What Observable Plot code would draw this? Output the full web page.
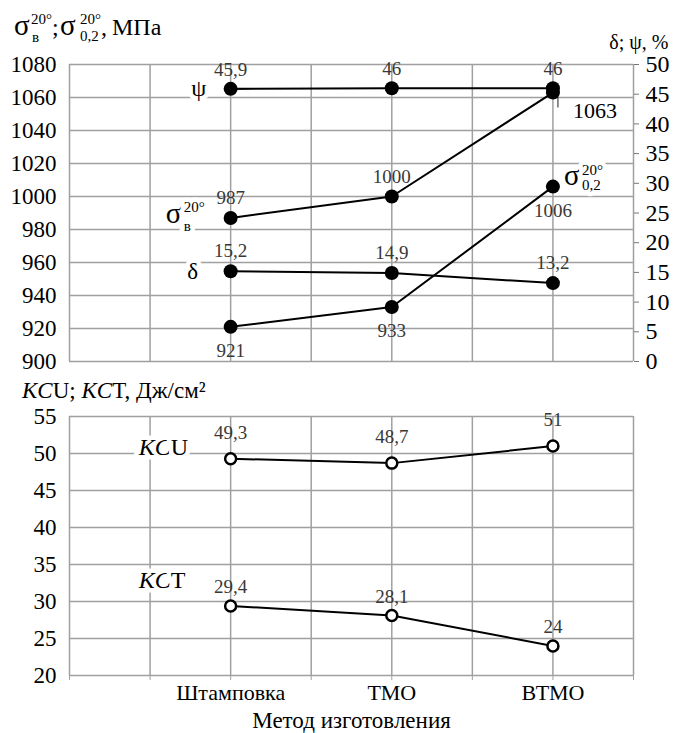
<!DOCTYPE html>
<html><head><meta charset="utf-8">
<script src="https://cdn.jsdelivr.net/npm/d3@7"></script>
<script src="https://cdn.jsdelivr.net/npm/@observablehq/plot@0.6"></script>
<style>
body{margin:0;background:#fff;}
#wrap{width:675px;}
#wrap svg{display:block;}
</style></head><body><div id="wrap"></div>
<script>
// ---- data ----
const categories = ["Штамповка", "ТМО", "ВТМО"];
const catPos = [2, 4, 6];
const sigmaB = [987, 1000, 1063];      // МПа
const sigma02 = [921, 933, 1006];      // МПа
const delta = [15.2, 14.9, 13.2];      // %
const psi = [45.9, 46, 46];            // %
const kcu = [49.3, 48.7, 51];          // Дж/см2
const kct = [29.4, 28.1, 24];          // Дж/см2
const mpaTicks = [900, 920, 940, 960, 980, 1000, 1020, 1040, 1060, 1080];
const pctTicks = [0, 5, 10, 15, 20, 25, 30, 35, 40, 45, 50];
const kTicks = [20, 25, 30, 35, 40, 45, 50, 55];
const xGrid = [0, 1, 2, 3, 4, 5, 6, 7];

const FONT = "Liberation Serif";
const GRID = "#a0a0a0";
const LAB = "#383838";
const toMpa = p => 900 + p * 180 / 50;
const fromMpa = v => String(Math.round((v - 900) * 50 / 180));
const fmt = v => String(v).replace(".", ",");
const rows = (vals, conv = v => v) => vals.map((v, i) => ({x: catPos[i], y: conv(v), v, i}));

const rPsi = rows(psi, toMpa), rDelta = rows(delta, toMpa);
const rSB = rows(sigmaB), rS02 = rows(sigma02);
const rKcu = rows(kcu), rKct = rows(kct);

const txt = (data, o) => Plot.text(data, {x: "x", y: "y", fontFamily: FONT, ...o});
const halo = {stroke: "white", strokeWidth: 9, fill: "#000", lineAnchor: "bottom"};

// ---- top panel ----
const topPlot = Plot.plot({
  width: 675, height: 370,
  marginTop: 64, marginBottom: 9, marginLeft: 69, marginRight: 42,
  style: {fontFamily: FONT, background: "#fff", color: "#000", overflow: "visible"},
  x: {domain: [0, 7], axis: null},
  y: {domain: [900, 1080], axis: null},
  marks: [
    Plot.gridX(xGrid, {stroke: GRID, strokeOpacity: 1, strokeWidth: 1.5}),
    Plot.gridY(mpaTicks, {stroke: GRID, strokeOpacity: 1, strokeWidth: 1.5}),
    Plot.axisY(mpaTicks, {anchor: "left", label: null, tickSize: 0, tickPadding: 13, fontSize: 23, fontFamily: FONT, tickFormat: d => String(d)}),
    Plot.axisY(pctTicks.map(toMpa), {anchor: "right", label: null, tickSize: 5, tickPadding: 7, fontSize: 24, fontFamily: FONT, stroke: "#777", tickFormat: fromMpa}),
    // lines
    Plot.line(rPsi, {x: "x", y: "y", stroke: "#000", strokeWidth: 2.2}),
    Plot.line(rSB, {x: "x", y: "y", stroke: "#000", strokeWidth: 2}),
    Plot.line(rS02, {x: "x", y: "y", stroke: "#000", strokeWidth: 2}),
    Plot.line(rDelta, {x: "x", y: "y", stroke: "#000", strokeWidth: 2}),
    // 1063 leader
    Plot.link(rSB.filter(d => d.i === 2), {x1: "x", x2: "x", y1: d => d.y - 2.5, y2: d => d.y - 9, dx: 5, stroke: "#444", strokeWidth: 1.2}),
    // series name labels
    txt([rPsi[0]], {text: () => "ψ", dx: -32, dy: 7, fontSize: 24, ...halo}),
    txt([rDelta[0]], {text: () => "δ", dx: -38, dy: 8, fontSize: 23, ...halo}),
    txt([rSB[0]], {text: () => "σ", dx: -65, dy: 5, fontSize: 29, textAnchor: "start", ...halo}),
    txt([rSB[0]], {text: () => "в", dx: -47, dy: 13, fontSize: 15, textAnchor: "start", ...halo}),
    txt([rSB[0]], {text: () => "20°", dx: -47, dy: -6, fontSize: 15, textAnchor: "start", ...halo}),
    txt([rS02[2]], {text: () => "σ", dx: 11, dy: -2, fontSize: 29, textAnchor: "start", ...halo}),
    txt([rS02[2]], {text: () => "20°", dx: 29, dy: -12, fontSize: 15, textAnchor: "start", ...halo}),
    txt([rS02[2]], {text: () => "0,2", dx: 29, dy: 3, fontSize: 15, textAnchor: "start", ...halo}),
    // dots
    Plot.dot([...rPsi, ...rSB, ...rS02, ...rDelta], {x: "x", y: "y", r: 7, fill: "#000"}),
    // value labels
    txt(rPsi, {text: d => fmt(d.v), dy: -19, fontSize: 19, fill: LAB}),
    txt(rSB.filter(d => d.i < 2), {text: d => fmt(d.v), dy: -20, fontSize: 19, fill: LAB}),
    txt(rSB.filter(d => d.i === 2), {text: d => fmt(d.v), dx: 20, dy: 25, textAnchor: "start", lineAnchor: "bottom", fontSize: 22, fill: "#000"}),
    txt(rS02, {text: d => fmt(d.v), dy: 24, fontSize: 19, fill: LAB}),
    txt(rDelta, {text: d => fmt(d.v), dy: -20, fontSize: 19, fill: LAB}),
    // right header
    Plot.text(["δ; ψ, %"], {frameAnchor: "top-right", text: d => d, dx: 35, dy: -16, textAnchor: "end", lineAnchor: "bottom", fontSize: 20, fontFamily: FONT})
  ]
});

// ---- bottom panel ----
const botPlot = Plot.plot({
  width: 675, height: 363,
  marginTop: 46, marginBottom: 58, marginLeft: 69, marginRight: 42,
  style: {fontFamily: FONT, background: "#fff", color: "#000", overflow: "visible"},
  x: {domain: [0, 7], axis: null},
  y: {domain: [20, 55], axis: null},
  marks: [
    Plot.gridX(xGrid, {stroke: GRID, strokeOpacity: 1, strokeWidth: 1.5}),
    Plot.gridY(kTicks, {stroke: GRID, strokeOpacity: 1, strokeWidth: 1.5}),
    Plot.axisY(kTicks, {anchor: "left", label: null, tickSize: 0, tickPadding: 13, fontSize: 23, fontFamily: FONT, tickFormat: d => String(d)}),
    Plot.axisX(xGrid, {anchor: "bottom", tickSize: 5, tickPadding: 4, fontSize: 22, fontFamily: FONT, stroke: GRID, label: null,
      tickFormat: d => catPos.includes(d) ? categories[catPos.indexOf(d)] : ""}),
    Plot.text(["Метод изготовления"], {frameAnchor: "bottom", text: d => d, dy: 52, lineAnchor: "bottom", fontSize: 23, fontFamily: FONT}),
    Plot.line(rKcu, {x: "x", y: "y", stroke: "#000", strokeWidth: 2}),
    Plot.line(rKct, {x: "x", y: "y", stroke: "#000", strokeWidth: 2}),
    Plot.dot([...rKcu, ...rKct], {x: "x", y: "y", r: 5.5, fill: "#fff", stroke: "#000", strokeWidth: 2.5}),
    txt(rKcu, {text: d => fmt(d.v), dy: -26, fontSize: 19, fill: LAB}),
    txt(rKct, {text: d => fmt(d.v), dy: -19, fontSize: 19, fill: LAB}),
    // series names
    txt([rKcu[0]], {text: () => "KC", dx: -60, dy: -4, textAnchor: "end", fontStyle: "italic", fontSize: 24, ...halo}),
    txt([rKcu[0]], {text: () => "U", dx: -60, dy: -4, textAnchor: "start", fontSize: 24, ...halo}),
    txt([rKct[0]], {text: () => "KC", dx: -60, dy: -18, textAnchor: "end", fontStyle: "italic", fontSize: 24, ...halo}),
    txt([rKct[0]], {text: () => "T", dx: -60, dy: -18, textAnchor: "start", fontSize: 24, ...halo})
  ]
});

const wrap = document.getElementById("wrap");
wrap.append(topPlot, botPlot);

// ---- mixed-style headers (real SVG text, absolute tspans) ----
const t1 = d3.select(topPlot).append("text").attr("text-anchor", "start")
  .attr("font-family", FONT).attr("fill", "#000");
const parts1 = [
  ["σ", 14, 35, 29], ["в", 32, 42, 15], ["20°", 31, 24, 15], [";", 52, 35, 24],
  ["σ", 60, 35, 29], ["20°", 80, 24, 15], ["0,2", 80, 41, 15], [",", 101, 35, 24], ["МПа", 112, 35, 24]
];
for (const [s, x, y, fs] of parts1) t1.append("tspan").attr("x", x).attr("y", y).attr("font-size", fs).text(s);

const t2 = d3.select(botPlot).append("text").attr("text-anchor", "start")
  .attr("x", 22).attr("y", 28).attr("font-family", FONT).attr("font-size", 23).attr("fill", "#000");
t2.append("tspan").attr("font-style", "italic").text("KC");
t2.append("tspan").text("U; ");
t2.append("tspan").attr("font-style", "italic").text("KC");
t2.append("tspan").text("T, Дж/см²");
</script></body></html>
